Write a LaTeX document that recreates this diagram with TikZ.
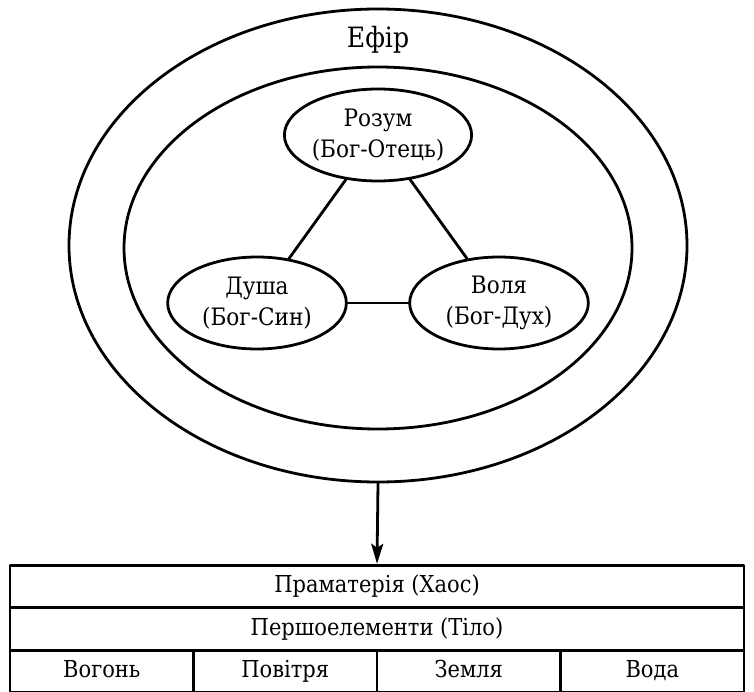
\documentclass[tikz,border=0pt]{standalone}
\usepackage{fontspec}
\setmainfont{DejaVu Serif Condensed}
\usetikzlibrary{shapes.geometric, arrows.meta}
\begin{document}
\begin{tikzpicture}[line cap=round, line join=round, >={Stealth[length=15pt, width=9pt, inset=3pt]}, x=0.75pt, y=-0.75pt, line width=2.1pt]
	\tikzset{oval/.style={draw, ellipse, inner sep=0pt},
		word/.style={oval, minimum width=134pt, minimum height=69pt, align=center, font=\fontsize{18}{23}\selectfont},
		cell/.style={draw, rectangle, minimum height=32pt, inner sep=0pt, text height=12.5pt, text depth=3.5pt, font=\fontsize{17.5}{20}\selectfont}}
	\useasboundingbox (0,0) rectangle (754,692);
	\node[oval, minimum width=463.5pt, minimum height=354.75pt] (efir) at (378,245.5) {};
	\node[oval, minimum width=381pt, minimum height=271.5pt] (inner) at (378,248) {};
	\node[font=\fontsize{21}{24}\selectfont] (title) at (378,40) {Ефір};
	\node[word] (rozum) at (378,135) {Розум\\(Бог-Отець)};
	\node[word] (dusha) at (257,303) {Душа\\(Бог-Син)};
	\node[word] (volia) at (499,303) {Воля\\(Бог-Дух)};
	\draw (rozum) -- (dusha);
	\draw (rozum) -- (volia);
	\draw (dusha) -- (volia);
	\node[cell, minimum width=550.5pt] (chaos) at (377,586.5) {Праматерія (Хаос)};
	\node[cell, minimum width=550.5pt] (tilo) at (377,629) {Першоелементи (Тіло)};
	\node[cell, minimum width=137.6pt] (vohon) at (101.75,671.5) {Вогонь};
	\node[cell, minimum width=137.6pt] (povitria) at (285.25,671.5) {Повітря};
	\node[cell, minimum width=137.6pt] (zemlia) at (468.75,671.5) {Земля};
	\node[cell, minimum width=137.6pt] (voda) at (652.25,671.5) {Вода};
	\draw[->] (efir.south) -- (chaos.north);
\end{tikzpicture}
\end{document}
